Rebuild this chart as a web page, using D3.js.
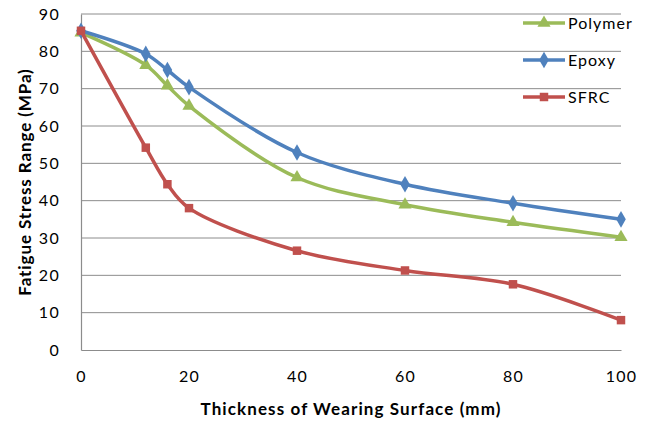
<!DOCTYPE html>
<html>
<head>
<meta charset="utf-8">
<script src="https://cdn.jsdelivr.net/npm/d3@7"></script>
<style>
  body { margin: 0; background: #fff; }
  text { font-family: Lato, "Open Sans", sans-serif; fill: #000; }
</style>
</head>
<body>
<script>
// chart size
var svgWidth = 654;
var svgHeight = 421;
var margin = {top: 14, right: 33, bottom: 71, left: 81};
var width = svgWidth - margin.left - margin.right;
var height = svgHeight - margin.top - margin.bottom;

// data
var thickness = [0, 12, 16, 20, 40, 60, 80, 100];
var polymer = [85, 76.3, 70.8, 65.4, 46.2, 38.9, 34.2, 30.2];
var epoxy = [85.5, 79.3, 75, 70.4, 52.9, 44.4, 39.3, 35];
var sfrc = [85.5, 54.2, 44.4, 38, 26.6, 21.3, 17.6, 8];
var seriesNames = ["Polymer", "Epoxy", "SFRC"];
var xTicks = [0, 20, 40, 60, 80, 100];
var yTicks = [0, 10, 20, 30, 40, 50, 60, 70, 80, 90];

var colors = {Polymer: "#9bbb59", Epoxy: "#4f81bd", SFRC: "#c0504d"};
var symbols = {Polymer: d3.symbolTriangle, Epoxy: d3.symbolDiamond, SFRC: d3.symbolSquare};
var symSize = {Polymer: 75, Epoxy: 80, SFRC: 72};

var series = [
  {name: "Polymer", values: polymer},
  {name: "Epoxy", values: epoxy},
  {name: "SFRC", values: sfrc}
];

var svg = d3.select("body").append("svg")
  .attr("width", svgWidth)
  .attr("height", svgHeight);

var chartGroup = svg.append("g")
  .attr("transform", `translate(${margin.left}, ${margin.top})`);

var x = d3.scaleLinear().domain([0, 100]).range([0, width]);
var y = d3.scaleLinear().domain([0, 90]).range([height, 0]);

// gridlines
chartGroup.append("g")
  .selectAll("line")
  .data(yTicks.slice(1))
  .enter()
  .append("line")
  .attr("x1", 0)
  .attr("x2", width)
  .attr("y1", d => y(d))
  .attr("y2", d => y(d))
  .attr("stroke", "#8c8c8c")
  .attr("stroke-width", 1);

// axes
var leftAxis = d3.axisLeft(y).tickValues(yTicks).tickSize(0).tickPadding(21);
var bottomAxis = d3.axisBottom(x).tickValues(xTicks).tickSize(0).tickPadding(21);

var gy = chartGroup.append("g").call(leftAxis);
var gx = chartGroup.append("g").attr("transform", `translate(0, ${height})`).call(bottomAxis);
[gx, gy].forEach(function (g) {
  g.select(".domain").attr("stroke", "#8c8c8c").attr("stroke-width", 1.2);
  g.selectAll("text")
    .style("font-size", "16px")
    .style("letter-spacing", "1.3px")
    .style("font-family", "Lato, sans-serif")
    .attr("fill", "#000");
});

// lines
var line = d3.line()
  .x((d, i) => x(thickness[i]))
  .y(d => y(d))
  .curve(d3.curveCatmullRom.alpha(0.5));

series.forEach(function (s) {
  chartGroup.append("path")
    .datum(s.values)
    .attr("d", line)
    .attr("fill", "none")
    .attr("stroke", colors[s.name])
    .attr("stroke-width", 3.5);

  chartGroup.selectAll(null)
    .data(s.values)
    .enter()
    .append("path")
    .attr("d", d3.symbol().type(symbols[s.name]).size(symSize[s.name]))
    .attr("transform", (d, i) => `translate(${x(thickness[i])}, ${y(d)})`)
    .attr("fill", colors[s.name]);
});

// legend
var legend = svg.append("g").attr("transform", "translate(523, 23)");
seriesNames.forEach(function (name, i) {
  var row = legend.append("g").attr("transform", `translate(0, ${i * 37})`);
  row.append("line")
    .attr("x1", 0).attr("x2", 42)
    .attr("stroke", colors[name]).attr("stroke-width", 3.5);
  row.append("path")
    .attr("d", d3.symbol().type(symbols[name]).size(symSize[name]))
    .attr("transform", "translate(21, 0)")
    .attr("fill", colors[name]);
  row.append("text")
    .attr("x", 45)
    .attr("dy", "0.35em")
    .style("font-size", "16px")
    .style("letter-spacing", "1px")
    .text(name);
});

// axis titles
chartGroup.append("text")
  .attr("transform", `translate(${-50}, ${height / 2}) rotate(-90)`)
  .style("text-anchor", "middle")
  .style("font-size", "17px")
  .style("letter-spacing", "0.9px")
  .style("font-weight", "bold")
  .text("Fatigue Stress Range (MPa)");

chartGroup.append("text")
  .attr("transform", `translate(${width / 2}, ${height + 65})`)
  .style("text-anchor", "middle")
  .style("font-size", "17px")
  .style("letter-spacing", "1.1px")
  .style("font-weight", "bold")
  .text("Thickness of Wearing Surface (mm)");
</script>
</body>
</html>
